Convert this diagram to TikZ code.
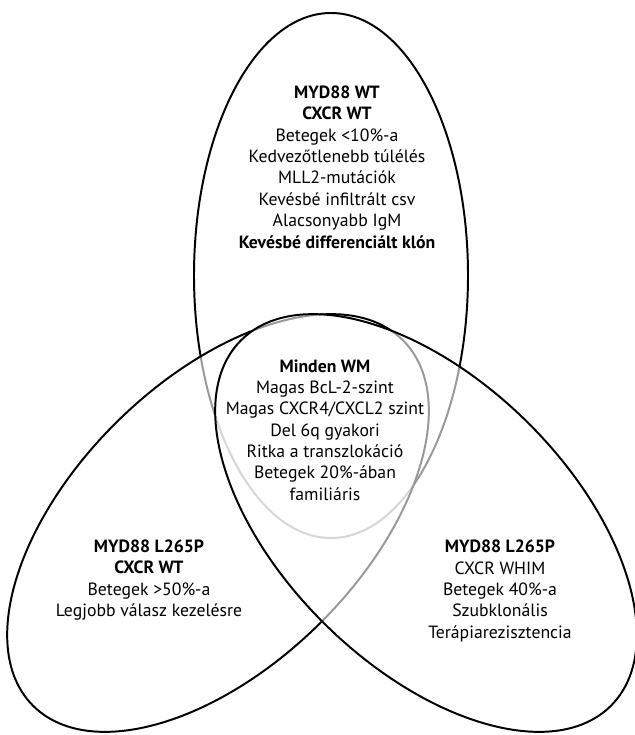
\documentclass[tikz,border=0pt]{standalone}
\usepackage{fontspec}
\setmainfont{PT Sans}
\usepackage{tikz}
\newcommand{\rim}{1.4pt}
\newcommand{\veil}{0.6}
\newcommand{\px}{0.025cm}
\tikzset{
  setline/.style={line width=\rim},
  setveil/.style={setline, fill=white, fill opacity=\veil},
  settext/.style={align=center, inner sep=0pt, font=\fontsize{12.6}{15.2}\selectfont}
}

\begin{document}
\begin{tikzpicture}[x=\px, y=-\px]
\useasboundingbox (0,0) rectangle (635,735);
%top
\draw[setline] (331,275.5) ellipse [x radius=137*\px, y radius=262.5*\px];
%left
\draw[setveil] (218,523) ellipse [x radius=260*\px, y radius=143*\px, rotate=44.5];
%right
\draw[setveil] (426,523) ellipse [x radius=260*\px, y radius=143*\px, rotate=-44.5];
%texts
\node[settext] (wt) at (337,167) {\textbf{MYD88 WT}\\\textbf{CXCR WT}\\Betegek <10\%-a\\Kedvezőtlenebb túlélés\\MLL2-mutációk\\Kevésbé infiltrált csv\\Alacsonyabb IgM\\\textbf{Kevésbé differenciált klón}};
\node[settext] (all) at (325,430) {\textbf{Minden WM}\\Magas BcL-2-szint\\Magas CXCR4/CXCL2 szint\\Del 6q gyakori\\Ritka a transzlokáció\\Betegek 20\%-ában\\familiáris};
\node[settext] (lwt) at (149,580) {\textbf{MYD88 L265P}\\\textbf{CXCR WT}\\Betegek >50\%-a\\Legjobb válasz kezelésre};
\node[settext] (whim) at (500,591) {\textbf{MYD88 L265P}\\CXCR WHIM\\Betegek 40\%-a\\Szubklonális\\Terápiarezisztencia};
\end{tikzpicture}
\end{document}
